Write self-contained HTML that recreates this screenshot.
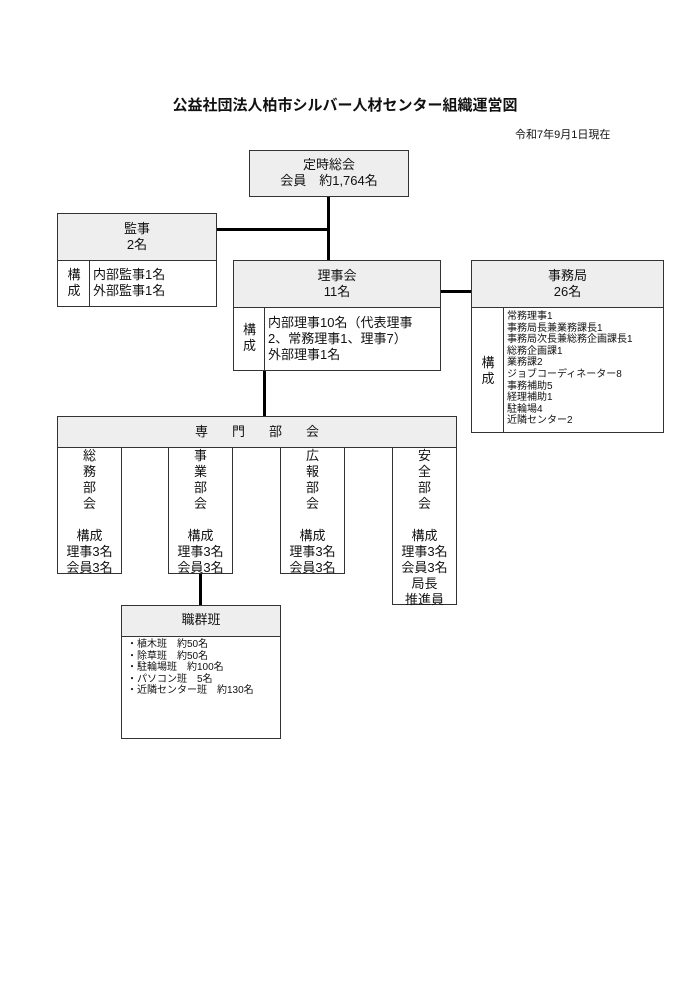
<!DOCTYPE html>
<html><head><meta charset="utf-8"><style>
*{box-sizing:border-box;}
body{margin:0;width:700px;height:990px;background:#fff;position:relative;font-family:"Liberation Sans","Noto Sans CJK JP",sans-serif;color:#111;}
.a{position:absolute;}
.b{border:1px solid #333;background:#fff;}
.h{background:#eee;border-bottom:1px solid #333;text-align:center;font-size:13px;line-height:16px;}
.l{position:absolute;background:#000;}
.c{text-align:center;font-size:13px;line-height:16px;}
</style></head><body>
<div class="a" style="left:0;width:690px;top:94px;text-align:center;font-size:15px;font-weight:bold;">公益社団法人柏市シルバー人材センター組織運営図</div>
<div class="a" style="left:515px;top:126px;font-size:11px;">令和7年9月1日現在</div>

<div class="l" style="left:327px;top:196px;width:3px;height:65px"></div>
<div class="l" style="left:216px;top:228px;width:112px;height:3px"></div>
<div class="l" style="left:440px;top:290px;width:32px;height:3px"></div>
<div class="l" style="left:263px;top:370px;width:3px;height:47px"></div>
<div class="l" style="left:199px;top:572px;width:3px;height:34px"></div>

<div class="a b" style="left:249px;top:150px;width:160px;height:47px;background:#eee"><div class="c" style="padding-top:6px">定時総会<br>会員　約1,764名</div></div>

<div class="a b" style="left:57px;top:213px;width:160px;height:94px">
<div class="h" style="height:47px;padding-top:7px">監事<br>2名</div>
<div class="a" style="left:0;top:47px;width:32px;height:45px;border-right:1px solid #333;" ></div>
<div class="a c" style="left:0;top:53px;width:32px">構<br>成</div>
<div class="a" style="left:35px;top:53px;font-size:13px;line-height:16px">内部監事1名<br>外部監事1名</div>
</div>

<div class="a b" style="left:233px;top:260px;width:208px;height:111px">
<div class="h" style="height:47px;padding-top:7px">理事会<br>11名</div>
<div class="a" style="left:0;top:47px;width:31px;height:62px;border-right:1px solid #333;"></div>
<div class="a c" style="left:0;top:61px;width:31px">構<br>成</div>
<div class="a" style="left:34px;top:54px;font-size:13px;line-height:16px;white-space:nowrap">内部理事10名（代表理事<br>2、常務理事1、理事7）<br>外部理事1名</div>
</div>

<div class="a b" style="left:471px;top:260px;width:193px;height:173px">
<div class="h" style="height:47px;padding-top:7px">事務局<br>26名</div>
<div class="a" style="left:0;top:47px;width:32px;height:124px;border-right:1px solid #333;"></div>
<div class="a c" style="left:0;top:94px;width:32px">構<br>成</div>
<div class="a" style="left:35px;top:50px;font-size:10px;line-height:11.6px;white-space:nowrap">常務理事1<br>事務局長兼業務課長1<br>事務局次長兼総務企画課長1<br>総務企画課1<br>業務課2<br>ジョブコーディネーター8<br>事務補助5<br>経理補助1<br>駐輪場4<br>近隣センター2</div>
</div>

<div class="a b" style="left:57px;top:416px;width:400px;height:32px;background:#eee"><div class="c" style="padding-top:7px;letter-spacing:24px;margin-left:24px">専門部会</div></div>

<div class="a b" style="left:57px;top:447px;width:65px;height:127px"><div class="c">総<br>務<br>部<br>会<br><br>構成<br>理事3名<br>会員3名</div></div>
<div class="a b" style="left:168px;top:447px;width:65px;height:127px"><div class="c">事<br>業<br>部<br>会<br><br>構成<br>理事3名<br>会員3名</div></div>
<div class="a b" style="left:280px;top:447px;width:65px;height:127px"><div class="c">広<br>報<br>部<br>会<br><br>構成<br>理事3名<br>会員3名</div></div>
<div class="a b" style="left:392px;top:447px;width:65px;height:158px"><div class="c">安<br>全<br>部<br>会<br><br>構成<br>理事3名<br>会員3名<br>局長<br>推進員</div></div>

<div class="a b" style="left:121px;top:605px;width:160px;height:134px">
<div class="h" style="height:31px;padding-top:6px">職群班</div>
<div class="a" style="left:5px;top:33px;font-size:10px;line-height:11.6px;white-space:nowrap">・植木班　約50名<br>・除草班　約50名<br>・駐輪場班　約100名<br>・パソコン班　5名<br>・近隣センター班　約130名</div>
</div>
</body></html>
